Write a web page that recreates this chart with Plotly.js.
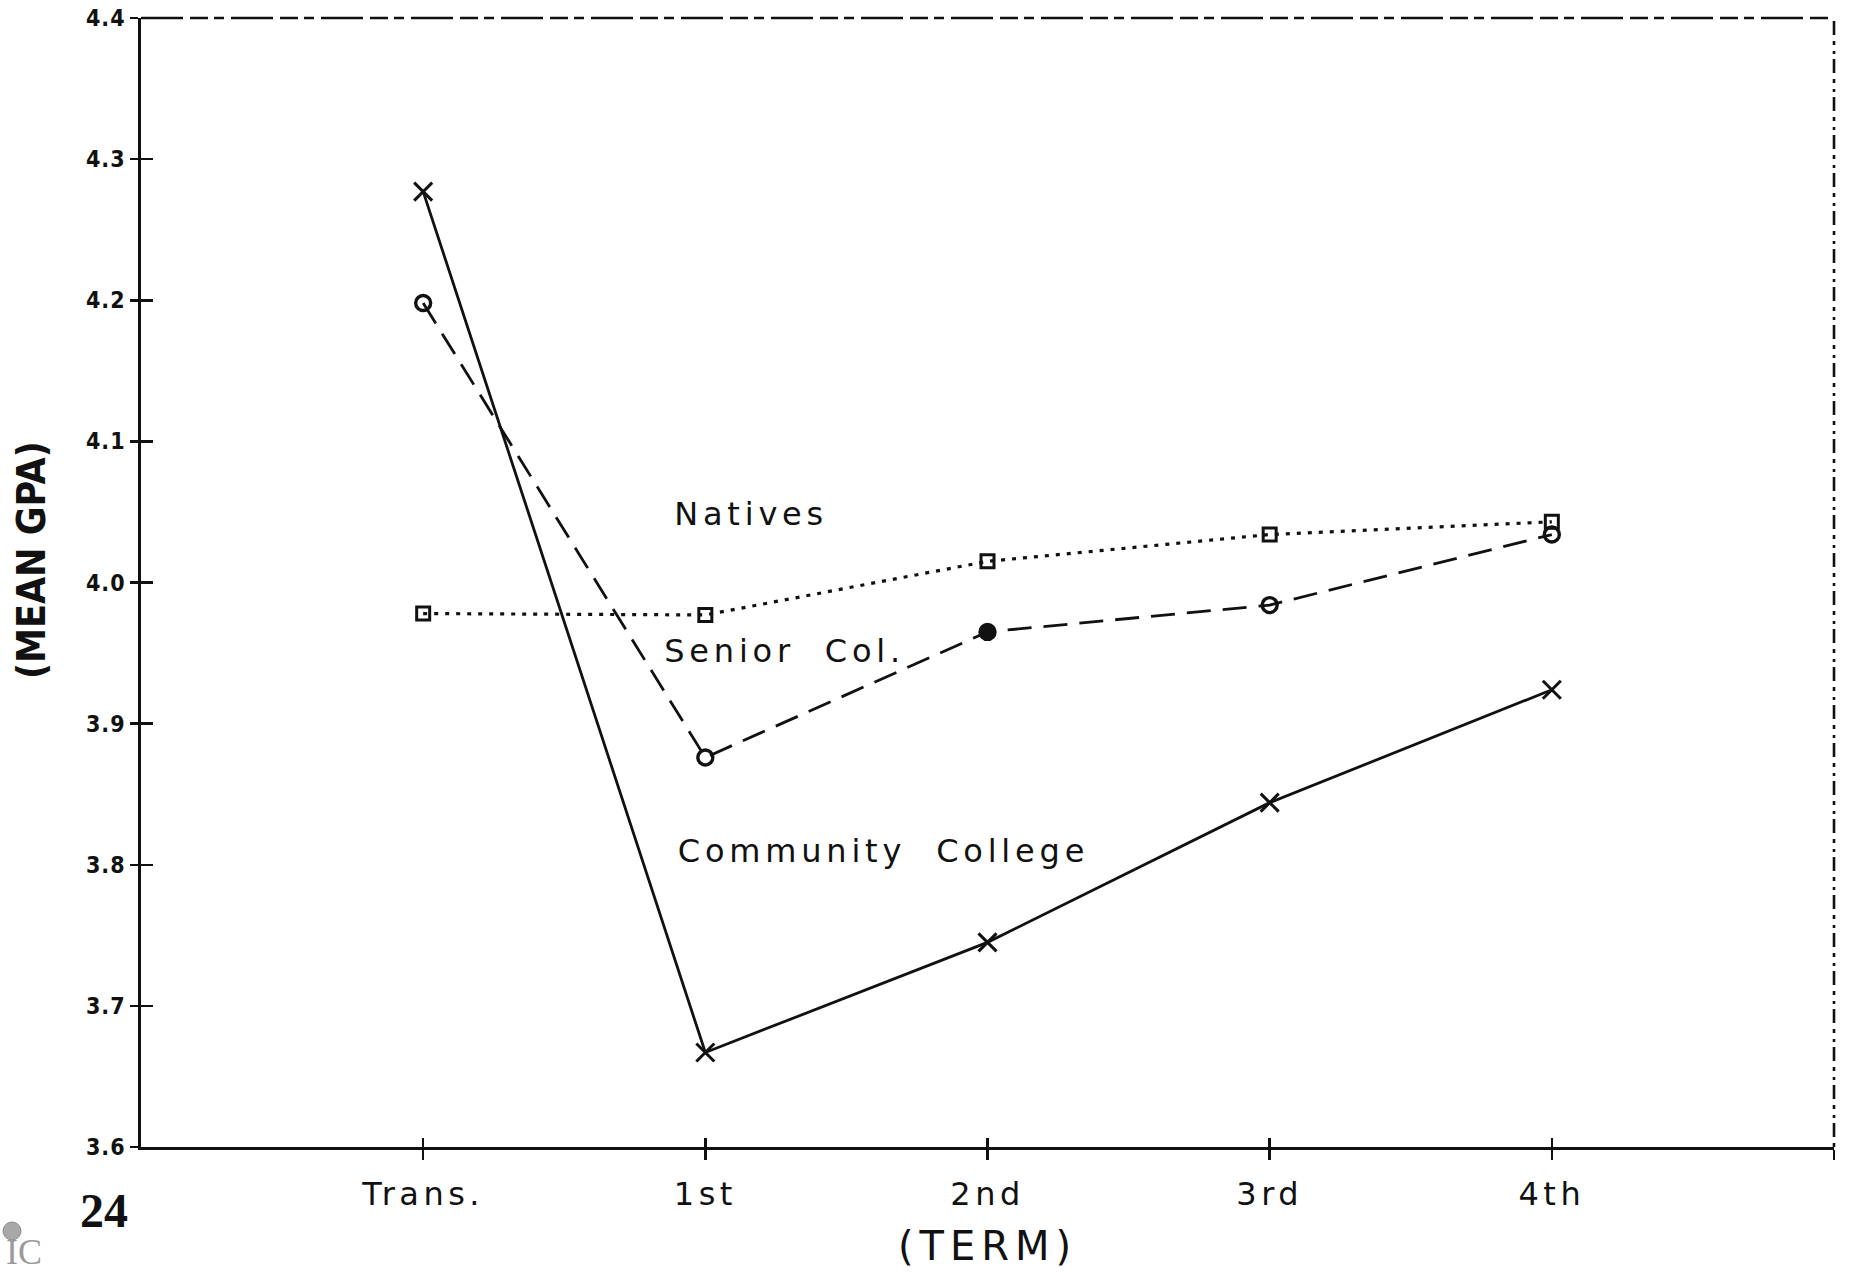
<!DOCTYPE html>
<html>
<head>
<meta charset="utf-8">
<script src="https://cdn.plot.ly/plotly-3.0.1.min.js"></script>
<style>
  html, body { margin: 0; padding: 0; background: #ffffff; }
  #chart { width: 1854px; height: 1272px; }
</style>
</head>
<body>
<div id="chart"></div>
<script>
// ---- data ----
const terms = ["Trans.", "1st", "2nd", "3rd", "4th"];
const termPos = [0, 1, 2, 3, 4];
const communityCollege = [4.277, 3.667, 3.745, 3.844, 3.924];
const seniorCol = [4.198, 3.876, 3.965, 3.984, 4.034];
const natives = [3.978, 3.977, 4.015, 4.034, 4.043];
const yTicks = [3.6, 3.7, 3.8, 3.9, 4.0, 4.1, 4.2, 4.3, 4.4];
const yTickText = ["3.6", "3.7", "3.8", "3.9", "4.0", "4.1", "4.2", "4.3", "4.4"];
const seriesLabels = ["Natives", "Senior  Col.", "Community  College"];

const INK = "#111111";
const LABEL_FONT = "DejaVu Sans, Verdana, sans-serif";
const COND_FONT = "DejaVu Sans Condensed, DejaVu Sans, sans-serif";

const traces = [
  {
    name: "Community College", x: termPos, y: communityCollege,
    mode: "lines+markers",
    line: { color: INK, width: 2.8 },
    marker: { symbol: "x-thin-open", size: 18, color: INK, line: { color: INK, width: 3 } },
    hoverinfo: "skip"
  },
  {
    name: "Senior Col.", x: termPos, y: seniorCol,
    mode: "lines+markers",
    line: { color: INK, width: 2.8, dash: "24px,12px" },
    marker: { symbol: ["circle-open", "circle-open", "circle", "circle-open", "circle-open"],
              size: 15, color: INK, line: { color: INK, width: 3.4 } },
    hoverinfo: "skip"
  },
  {
    name: "Natives", x: termPos, y: natives,
    mode: "lines+markers",
    line: { color: INK, width: 3.2, dash: "4px,7px" },
    marker: { symbol: "square-open", size: 13, color: INK, line: { color: INK, width: 3 } },
    hoverinfo: "skip"
  },
  // empty trace that carries the overlaid axes used for crossing tick marks
  { x: [], y: [], xaxis: "x2", yaxis: "y2", mode: "markers", hoverinfo: "skip" }
];

const layout = {
  width: 1854, height: 1272,
  paper_bgcolor: "#ffffff", plot_bgcolor: "#ffffff",
  margin: { l: 141, r: 20, t: 18, b: 125 },
  showlegend: false,
  xaxis: {
    range: [-1, 5],
    tickvals: termPos.concat([5]),
    ticktext: terms.concat([""]),
    ticks: "outside", ticklen: 10, tickwidth: 2.5, tickcolor: INK,
    ticklabelstandoff: 7,
    showline: true, linewidth: 2.8, linecolor: INK,
    showgrid: false, zeroline: false,
    tickfont: { family: LABEL_FONT, size: 32, color: INK },
    title: { text: "(TERM)", font: { family: LABEL_FONT, size: 40, color: INK }, standoff: 20 }
  },
  yaxis: {
    range: [3.6, 4.4],
    tickvals: yTicks, ticktext: yTickText,
    ticks: "outside", ticklen: 8, tickwidth: 2.5, tickcolor: INK,
    showline: true, linewidth: 2.8, linecolor: INK,
    showgrid: false, zeroline: false,
    tickfont: { family: COND_FONT, size: 23, color: INK, weight: "bold" }
  },
  xaxis2: {
    overlaying: "x", anchor: "y2", range: [-1, 5],
    tickvals: termPos.concat([5]), showticklabels: false,
    ticks: "inside", ticklen: 9, tickwidth: 2.5, tickcolor: INK,
    showline: false, showgrid: false, zeroline: false
  },
  yaxis2: {
    overlaying: "y", anchor: "x2", range: [3.6, 4.4],
    tickvals: yTicks, showticklabels: false,
    ticks: "inside", ticklen: 12, tickwidth: 2.5, tickcolor: INK,
    showline: false, showgrid: false, zeroline: false
  },
  shapes: [
    { type: "line", xref: "paper", yref: "paper", x0: 0, x1: 1, y0: 1, y1: 1,
      line: { color: INK, width: 2.6, dash: "42px,7px,18px,6px,10px,7px" } },
    { type: "line", xref: "paper", yref: "paper", x0: 1, x1: 1, y0: 0, y1: 1,
      line: { color: INK, width: 2.6, dash: "4px,6px,14px,5px,3px,6px" } },
    { type: "circle", xref: "paper", yref: "paper",
      x0: (3 - 141) / 1693, x1: (21 - 141) / 1693, y0: (1147 - 1240) / 1129, y1: (1147 - 1222) / 1129,
      fillcolor: "#a8a8a8", line: { color: "#8c8c8c", width: 1 } }
  ],
  annotations: [
    { text: "(MEAN GPA)", x: (31 - 141) / 1693, y: (1147 - 560) / 1129, xref: "paper", yref: "paper", showarrow: false,
      textangle: -90, xanchor: "center", yanchor: "middle",
      font: { family: COND_FONT, size: 39, color: INK, weight: "bold" } },
    { text: seriesLabels[0], x: 1.162, y: 4.0485, xref: "x", yref: "y", showarrow: false,
      xanchor: "center", yanchor: "middle", font: { family: LABEL_FONT, size: 32, color: INK } },
    { text: seriesLabels[1], x: 1.279, y: 3.9514, xref: "x", yref: "y", showarrow: false,
      xanchor: "center", yanchor: "middle", font: { family: LABEL_FONT, size: 32, color: INK } },
    { text: seriesLabels[2], x: 1.630, y: 3.8096, xref: "x", yref: "y", showarrow: false,
      xanchor: "center", yanchor: "middle", font: { family: LABEL_FONT, size: 32, color: INK } },
    { text: "24", x: (104 - 141) / 1693, y: (1147 - 1210) / 1129, xref: "paper", yref: "paper", showarrow: false,
      xanchor: "center", yanchor: "middle", font: { family: "Liberation Serif, DejaVu Serif, serif", size: 48, color: INK, weight: "bold" } },
    { text: "IC", x: (24 - 141) / 1693, y: (1147 - 1252) / 1129, xref: "paper", yref: "paper", showarrow: false,
      xanchor: "center", yanchor: "middle", font: { family: "Liberation Serif, DejaVu Serif, serif", size: 36, color: "#9a9a9a" } }
  ]
};

Plotly.newPlot("chart", traces, layout, { staticPlot: true, displayModeBar: false }).then(function () {
  document.querySelectorAll(".annotation-text").forEach(function (t) {
    const s = t.textContent;
    if (s !== "24" && s !== "IC" && s !== "(MEAN GPA)") t.style.letterSpacing = "4.8px";
  });
  document.querySelectorAll(".xtick text").forEach(function (t) { t.style.letterSpacing = "4.5px"; });
  document.querySelectorAll(".xtitle").forEach(function (t) { t.style.letterSpacing = "6px"; });
  document.querySelectorAll(".ytick text").forEach(function (t) { t.style.letterSpacing = "1px"; });
});
</script>
</body>
</html>
